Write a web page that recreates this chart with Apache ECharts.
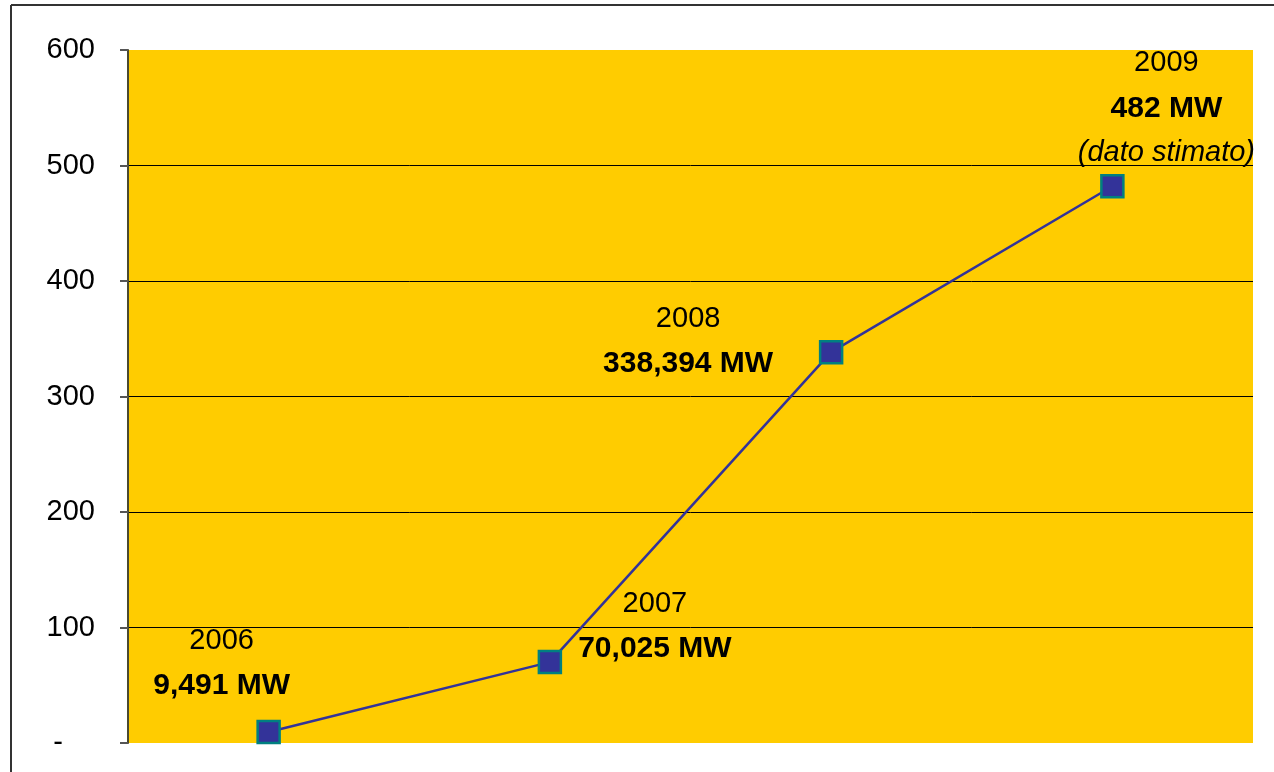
<!DOCTYPE html>
<html>
<head>
<meta charset="utf-8">
<title>MW installati</title>
<script src="https://cdn.jsdelivr.net/npm/echarts@6/dist/echarts.min.js"></script>
<style>
  html, body { margin: 0; padding: 0; background: #fff; }
  #main { width: 1274px; height: 772px; }
</style>
</head>
<body>
<div id="main"></div>
<script>
// dati
var years = ['2006', '2007', '2008', '2009'];
var mw = [9.491, 70.025, 338.394, 482];
var mwText = ['9,491 MW', '70,025 MW', '338,394 MW', '482 MW'];
var notes = ['', '', '', '(dato stimato)'];
var yTicks = [0, 100, 200, 300, 400, 500, 600];

// spostamento etichette rispetto al punto
var labelShift = [[-47, -69], [105, -36], [-143, -11], [54, -78]];

var font = '"Liberation Sans", Arial, sans-serif';
var chart = echarts.init(document.getElementById('main'));

var seriesData = [];
for (var i = 0; i < mw.length; i++) {
    var txt = '{y|' + years[i] + '}\n{v|' + mwText[i] + '}';
    if (notes[i]) {
        txt += '\n{n|' + notes[i] + '}';
    }
    seriesData.push({
        value: mw[i],
        label: { formatter: txt, offset: labelShift[i] }
    });
}

var option = {
    animation: false,
    backgroundColor: '#fff',
    graphic: [
        { type: 'line', shape: { x1: 11, y1: 5, x2: 1274, y2: 5 }, style: { stroke: '#333', lineWidth: 2 } },
        { type: 'line', shape: { x1: 11, y1: 5, x2: 11, y2: 772 }, style: { stroke: '#333', lineWidth: 2 } }
    ],
    grid: {
        left: 128, top: 50, right: 21, bottom: 29,
        show: true, backgroundColor: '#FFCC00', borderWidth: 0
    },
    xAxis: {
        type: 'category',
        data: years,
        boundaryGap: true,
        axisLine: { show: false },
        axisTick: { show: false },
        axisLabel: { show: false },
        splitLine: { show: false }
    },
    yAxis: {
        type: 'value',
        min: yTicks[0],
        max: yTicks[yTicks.length - 1],
        interval: 100,
        axisLine: { show: true, lineStyle: { color: '#4a4a30', width: 2 } },
        axisTick: { show: true, length: 8, lineStyle: { color: '#555', width: 2 } },
        axisLabel: {
            margin: 33,
            color: '#000',
            fontFamily: font,
            fontSize: 29,
            formatter: function (v) { return v === 0 ? '{d|-}' : String(v); },
            rich: { d: { fontFamily: font, fontSize: 29, color: '#000', padding: [0, 32, 0, 0] } }
        },
        splitLine: {
            show: true,
            lineStyle: {
                color: ['rgba(0,0,0,0)', '#000', '#000', '#000', '#000', '#000', 'rgba(0,0,0,0)'],
                width: 1
            }
        }
    },
    series: [{
        type: 'line',
        data: seriesData,
        symbol: 'rect',
        symbolSize: 22,
        lineStyle: { color: '#333399', width: 2.5 },
        itemStyle: { color: '#333399', borderColor: '#008080', borderWidth: 2.5 },
        label: {
            show: true,
            position: 'inside',
            align: 'center',
            verticalAlign: 'middle',
            lineHeight: 45,
            rich: {
                y: { fontFamily: font, fontSize: 29, color: '#000', lineHeight: 45 },
                v: { fontFamily: font, fontSize: 30, fontWeight: 'bold', color: '#000', lineHeight: 45 },
                n: { fontFamily: font, fontSize: 29, fontStyle: 'italic', color: '#000', lineHeight: 45 }
            }
        },
        emphasis: { disabled: true }
    }]
};
chart.setOption(option);
</script>
</body>
</html>
